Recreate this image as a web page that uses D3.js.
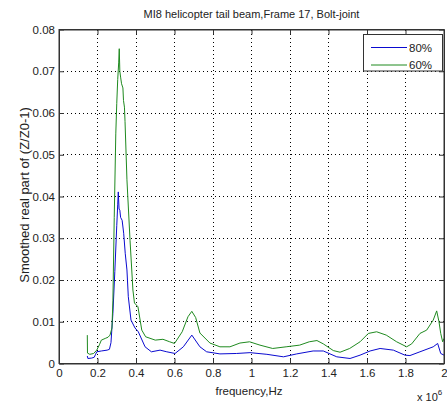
<!DOCTYPE html>
<html><head><meta charset="utf-8">
<script src="https://cdn.jsdelivr.net/npm/d3@7"></script>
<style>body{margin:0;background:#fff}svg{display:block}text{font-family:"Liberation Sans",Arial,sans-serif;fill:#222}</style>
</head><body>
<svg id="c" width="447" height="403"></svg>
<script>
const title = "MI8 helicopter tail beam,Frame 17, Bolt-joint";
const xLabel = "frequency,Hz";
const yLabel = "Smoothed real part of (Z/Z0-1)";
const seriesNames = ["80%", "60%"];
const xTicks = [0, 0.2e6, 0.4e6, 0.6e6, 0.8e6, 1.0e6, 1.2e6, 1.4e6, 1.6e6, 1.8e6, 2.0e6];
const xTickLabels = ["0","0.2","0.4","0.6","0.8","1","1.2","1.4","1.6","1.8","2"];
const yTicks = [0, 0.01, 0.02, 0.03, 0.04, 0.05, 0.06, 0.07, 0.08];
const yTickLabels = ["0","0.01","0.02","0.03","0.04","0.05","0.06","0.07","0.08"];

const freq80 = [0.147e6,0.15e6,0.17e6,0.183e6,0.19e6,0.196e6,0.22e6,0.25e6,0.262e6,0.27e6,0.28e6,0.29e6,0.3e6,0.305e6,0.308e6,0.312e6,0.316e6,0.32e6,0.328e6,0.336e6,0.344e6,0.353e6,0.36e6,0.374e6,0.395e6,0.412e6,0.447e6,0.48e6,0.525e6,0.56e6,0.603e6,0.646e6,0.69e6,0.732e6,0.767e6,0.836e6,0.923e6,0.992e6,1.08e6,1.166e6,1.235e6,1.32e6,1.373e6,1.443e6,1.512e6,1.564e6,1.616e6,1.668e6,1.737e6,1.797e6,1.823e6,1.875e6,1.944e6,1.967e6,1.983e6,2.0e6];
const val80 = [0.0018,0.0012,0.0013,0.0015,0.0022,0.0028,0.0030,0.0032,0.0034,0.0050,0.0120,0.0220,0.0330,0.0380,0.0411,0.0370,0.0367,0.0350,0.0343,0.0312,0.0264,0.0224,0.0160,0.0104,0.0085,0.0076,0.0040,0.0028,0.0032,0.0028,0.0024,0.0040,0.0068,0.0040,0.0028,0.0023,0.0024,0.0026,0.0022,0.0016,0.0023,0.0030,0.0030,0.0016,0.0012,0.0020,0.0030,0.0036,0.0032,0.0020,0.0019,0.0028,0.0040,0.0048,0.0024,0.0020];

const freq60 = [0.147e6,0.148e6,0.16e6,0.18e6,0.196e6,0.21e6,0.22e6,0.24e6,0.255e6,0.265e6,0.275e6,0.28e6,0.287e6,0.295e6,0.3e6,0.305e6,0.31e6,0.313e6,0.316e6,0.32e6,0.325e6,0.332e6,0.335e6,0.34e6,0.343e6,0.353e6,0.369e6,0.384e6,0.392e6,0.41e6,0.43e6,0.45e6,0.5e6,0.54e6,0.575e6,0.6e6,0.64e6,0.67e6,0.69e6,0.71e6,0.732e6,0.784e6,0.836e6,0.888e6,0.94e6,0.99e6,1.044e6,1.11e6,1.18e6,1.25e6,1.30e6,1.34e6,1.373e6,1.425e6,1.46e6,1.51e6,1.564e6,1.607e6,1.65e6,1.70e6,1.754e6,1.806e6,1.832e6,1.875e6,1.91e6,1.944e6,1.962e6,1.974e6,1.983e6,1.993e6,2.0e6];
const val60 = [0.0068,0.0025,0.0022,0.0024,0.0032,0.0045,0.0056,0.0060,0.0063,0.0068,0.0085,0.0150,0.0350,0.0550,0.0623,0.0680,0.0720,0.0754,0.0700,0.0686,0.0670,0.0660,0.0630,0.0614,0.0580,0.0440,0.0295,0.0176,0.0145,0.0136,0.0080,0.0064,0.0056,0.0058,0.0052,0.0048,0.0076,0.0112,0.0125,0.0110,0.0073,0.0049,0.0040,0.0040,0.0049,0.0052,0.0044,0.0036,0.0040,0.0044,0.0052,0.0055,0.0047,0.0031,0.0027,0.0036,0.0052,0.0072,0.0076,0.0068,0.0052,0.0040,0.0047,0.0072,0.0080,0.0104,0.0126,0.0100,0.0072,0.0052,0.0060];

const colors = ["#0a0ad0", "#1f8a1f"];

const svg = d3.select("#c");
const L = 59, R = 444, T = 29.5, B = 363.5;
const x = d3.scaleLinear().domain([0, 2e6]).range([L, R]);
const y = d3.scaleLinear().domain([0, 0.08]).range([B, T]);

// grid
const g = svg.append("g");
g.selectAll(".vg").data(xTicks.slice(1, -1)).enter().append("line")
  .attr("x1", d => x(d)).attr("x2", d => x(d)).attr("y1", T).attr("y2", B)
  .attr("stroke", "#000").attr("stroke-width", 1).attr("stroke-dasharray", "1,3").attr("shape-rendering","crispEdges");
g.selectAll(".hg").data(yTicks.slice(1, -1)).enter().append("line")
  .attr("y1", d => y(d)).attr("y2", d => y(d)).attr("x1", L).attr("x2", R)
  .attr("stroke", "#000").attr("stroke-width", 1).attr("stroke-dasharray", "1,3").attr("shape-rendering","crispEdges");

// axes with inward ticks
const fmtX = (d, i) => xTickLabels[i];
const fmtY = (d, i) => yTickLabels[i];
const xb = svg.append("g").attr("transform", `translate(0,${B})`)
  .call(d3.axisBottom(x).tickValues(xTicks).tickFormat(fmtX).tickSizeInner(-5).tickSizeOuter(0).tickPadding(5));
const xt = svg.append("g").attr("transform", `translate(0,${T})`)
  .call(d3.axisTop(x).tickValues(xTicks).tickFormat("").tickSizeInner(-5).tickSizeOuter(0));
const yl = svg.append("g").attr("transform", `translate(${L},0)`)
  .call(d3.axisLeft(y).tickValues(yTicks).tickFormat(fmtY).tickSizeInner(-5).tickSizeOuter(0).tickPadding(4));
const yr = svg.append("g").attr("transform", `translate(${R},0)`)
  .call(d3.axisRight(y).tickValues(yTicks).tickFormat("").tickSizeInner(-5).tickSizeOuter(0));
[xb, xt, yl, yr].forEach(a => {
  a.attr("font-family", null).attr("font-size", null);
  a.selectAll("path.domain").attr("stroke", "#333");
  a.selectAll(".tick line").attr("stroke", "#333");
  a.selectAll("text").attr("font-size", "11.5px").attr("fill", "#222");
});

// lines
const line = d3.line().x(d => x(d[0])).y(d => y(d[1]));
const data80 = freq80.map((f, i) => [f, val80[i]]);
const data60 = freq60.map((f, i) => [f, val60[i]]);
[data80, data60].forEach((d, i) => {
  svg.append("path").datum(d).attr("d", line).attr("fill", "none")
    .attr("stroke", colors[i]).attr("stroke-width", 1).attr("stroke-linejoin", "round");
});

// box
svg.append("rect").attr("x", L).attr("y", T).attr("width", R - L).attr("height", B - T)
  .attr("fill", "none").attr("stroke", "#333").attr("stroke-width", 1);

// title and labels
svg.append("text").attr("x", (L + R) / 2).attr("y", 18).attr("text-anchor", "middle")
  .attr("font-size", "11px").text(title);
svg.append("text").attr("x", 249).attr("y", 395).attr("text-anchor", "middle")
  .attr("font-size", "11.5px").text(xLabel);
svg.append("text").attr("transform", `translate(29,195) rotate(-90)`).attr("text-anchor", "middle")
  .attr("font-size", "13px").text(yLabel);
const exp = svg.append("text").attr("x", 417).attr("y", 401).attr("font-size", "11px");
exp.append("tspan").text("x 10");
exp.append("tspan").attr("dy", -6).attr("font-size", "8px").text("6");

// legend
const lg = svg.append("g");
lg.append("rect").attr("x", 363.5).attr("y", 34.5).attr("width", 79).attr("height", 36.5)
  .attr("fill", "#fff").attr("stroke", "#333").attr("stroke-width", 1);
seriesNames.forEach((n, i) => {
  const yy = 47.5 + i * 17.5;
  lg.append("line").attr("x1", 371).attr("x2", 407).attr("y1", yy).attr("y2", yy).attr("stroke", colors[i]);
  lg.append("text").attr("x", 409).attr("y", yy + 4).attr("font-size", "11.5px").text(n);
});
</script>
</body></html>
